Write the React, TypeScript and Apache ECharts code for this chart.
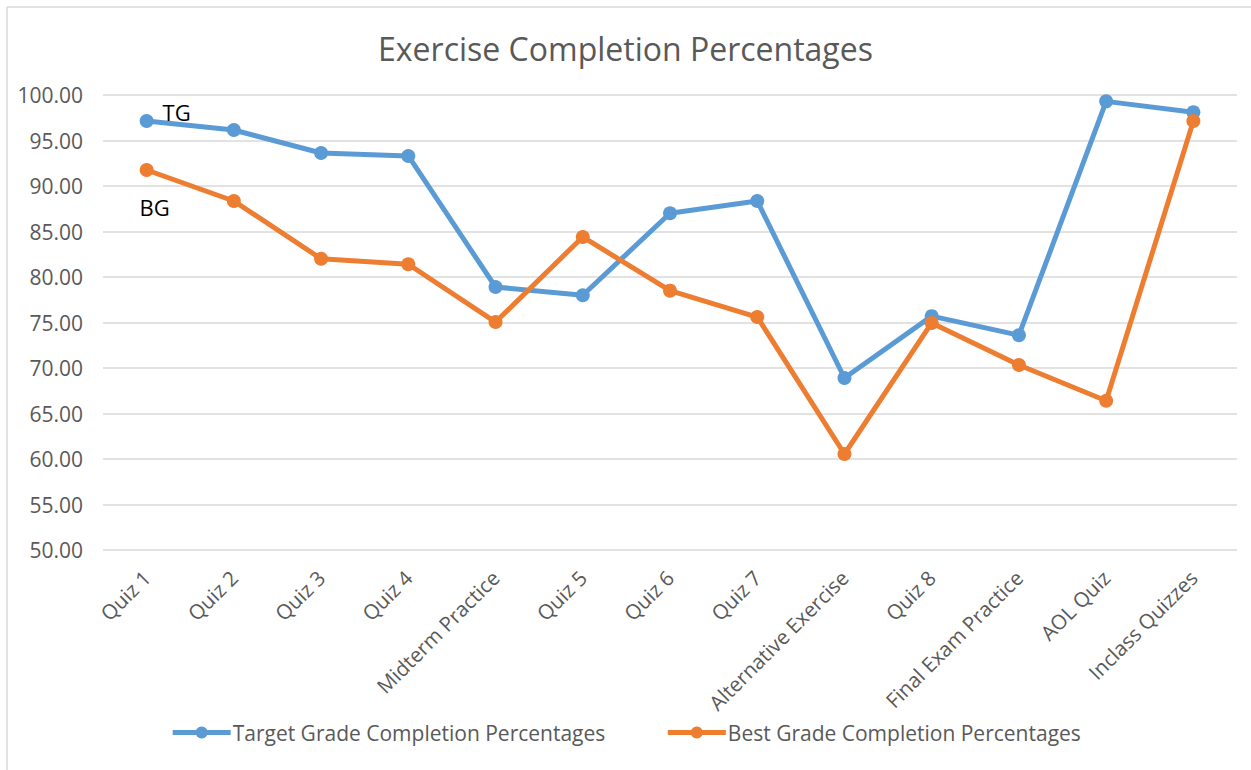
import React, { useEffect, useRef } from "react";
import * as echarts from "echarts";

const categories = [
  "Quiz 1", "Quiz 2", "Quiz 3", "Quiz 4", "Midterm Practice", "Quiz 5", "Quiz 6",
  "Quiz 7", "Alternative Exercise", "Quiz 8", "Final Exam Practice", "AOL Quiz", "Inclass Quizzes",
];
const targetGrade = [97.14, 96.15, 93.63, 93.3, 78.9, 78.0, 87.0, 88.35, 68.9, 75.7, 73.6, 99.3, 98.1];
const bestGrade = [91.76, 88.35, 82.0, 81.4, 75.05, 84.4, 78.5, 75.6, 60.55, 74.95, 70.33, 66.4, 97.14];
const seriesNames = ["Target Grade Completion Percentages", "Best Grade Completion Percentages"];
const shortNames = ["TG", "BG"];
const titleText = "Exercise Completion Percentages";

const FONT = "'Open Sans', 'Noto Sans', sans-serif";

export default function App() {
  const ref = useRef<HTMLDivElement>(null);
  useEffect(() => {
    if (!ref.current) return;
    const chart = echarts.init(ref.current, undefined, { renderer: "svg" });
    const mkData = (vals: number[], idx: number) =>
      vals.map((v, i) =>
        i === 0
          ? {
              value: v,
              label: {
                show: true,
                formatter: shortNames[idx],
                color: "#000",
                fontSize: 22,
                fontFamily: FONT,
                position: idx === 0 ? "right" : "bottom",
                offset: idx === 0 ? [4, -9] : [8, 14],
              },
            }
          : v
      );
    chart.setOption({
      animation: false,
      backgroundColor: "#fff",
      title: {
        text: titleText,
        left: "center",
        top: 27,
        textStyle: { color: "#595959", fontSize: 32, fontWeight: "normal", fontFamily: FONT },
      },
      grid: { left: 103, right: 14, top: 95, bottom: 220 },
      legend: {
        bottom: 22,
        left: "center",
        itemGap: 60,
        itemWidth: 58,
        itemHeight: 15,
        lineStyle: { width: 5 },
        textStyle: { color: "#595959", fontSize: 21, fontFamily: FONT, padding: [0, 0, 0, -3] },
        data: seriesNames,
      },
      xAxis: {
        type: "category",
        data: categories,
        boundaryGap: true,
        axisLine: { show: false },
        axisTick: { show: false },
        axisLabel: {
          rotate: 45,
          interval: 0,
          color: "#595959",
          fontSize: 20.5,
          fontFamily: FONT,
          margin: 24,
        },
      },
      yAxis: {
        type: "value",
        min: 50,
        max: 100,
        interval: 5,
        axisLine: { show: false },
        axisTick: { show: false },
        splitLine: { lineStyle: { color: "#D9D9D9", width: 1.5 } },
        axisLabel: {
          color: "#595959",
          fontSize: 21,
          fontFamily: FONT,
          margin: 20,
          formatter: (v: number) => v.toFixed(2),
        },
      },
      graphic: [
        { type: "line", shape: { x1: 7, y1: 7, x2: 1251, y2: 7 }, style: { stroke: "#D9D9D9", lineWidth: 1.5 } },
        { type: "line", shape: { x1: 7, y1: 7, x2: 7, y2: 770 }, style: { stroke: "#D9D9D9", lineWidth: 1.5 } },
      ],
      series: [
        {
          name: seriesNames[0],
          type: "line",
          data: mkData(targetGrade, 0),
          symbol: "circle",
          symbolSize: 14,
          itemStyle: { color: "#5B9BD5" },
          lineStyle: { color: "#5B9BD5", width: 5 },
        },
        {
          name: seriesNames[1],
          type: "line",
          data: mkData(bestGrade, 1),
          symbol: "circle",
          symbolSize: 14,
          itemStyle: { color: "#ED7D31" },
          lineStyle: { color: "#ED7D31", width: 5 },
        },
      ],
    });
    return () => chart.dispose();
  }, []);
  return (
    <div
      ref={ref}
      style={{ position: "fixed", left: 0, top: 0, width: 1251, height: 770 }}
    />
  );
}
